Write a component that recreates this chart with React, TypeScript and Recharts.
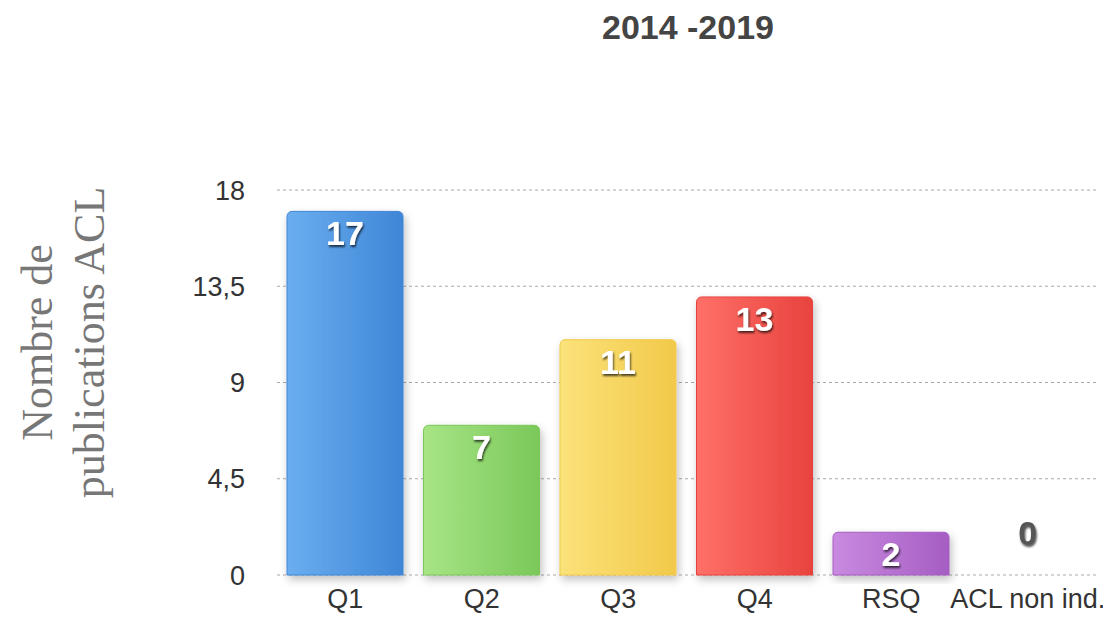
import React from 'react';
import { BarChart, Bar, XAxis, YAxis, CartesianGrid, Cell, LabelList, ReferenceDot } from 'recharts';

const categories = ['Q1', 'Q2', 'Q3', 'Q4', 'RSQ', 'ACL non ind.'];
const publications = [17, 7, 11, 13, 2, 0];
const yTicks = [0, 4.5, 9, 13.5, 18];
const barColors = [
  ['#6aaef0', '#3f86d6'],
  ['#a8e585', '#7ac85a'],
  ['#fbe27a', '#f2c94a'],
  ['#ff7068', '#e8433e'],
  ['#c98ae0', '#a55dc2'],
  ['#bbbbbb', '#999999'],
];

const data = categories.map((name, i) => ({ name, value: publications[i] }));

const fontFamily = '"Liberation Sans", Arial, Helvetica, sans-serif';

const formatTick = (v: number) => String(v).replace('.', ',');

const ValueLabel = (props: any) => {
  const { x, y, width, value } = props;
  if (!value) return null;
  return (
    <text x={x + width / 2} y={y + 34} textAnchor="middle" fontFamily={fontFamily} fontWeight="bold"
      fontSize={34} fill="#fff" filter="url(#txtShadow)">
      {value}
    </text>
  );
};

// zero bars have no height, so their label is drawn at the value on the axis
const ZeroLabel = (props: any) => (
  <text x={props.cx} y={props.cy - 30} textAnchor="middle" fontFamily={fontFamily} fontWeight="bold"
    fontSize={34} fill="#555" filter="url(#txtShadow)">
    0
  </text>
);

const YLabel = (props: any) => {
  const vb = props.viewBox || {};
  const cy = vb.y + vb.height / 2 - 40;
  return (
    <g fontFamily='"Liberation Serif", "DejaVu Serif", serif' fontSize={44} fill="#777">
      <text x={34} y={cy} textAnchor="middle" transform={`rotate(-90 34 ${cy})`} dominantBaseline="middle">
        Nombre de
      </text>
      <text x={86} y={cy} textAnchor="middle" transform={`rotate(-90 86 ${cy})`} dominantBaseline="middle">
        publications ACL
      </text>
    </g>
  );
};

export default function App() {
  return (
    <div style={{ position: 'relative', width: 1100, height: 612, fontFamily }}>
      <div style={{ position: 'absolute', left: 530, top: 0, width: 300, textAlign: 'center',
        fontSize: 34, fontWeight: 'bold', color: '#444' }}>
        2014 -2019
      </div>
      <BarChart width={1100} height={612} data={data}
        margin={{ top: 182, right: 12, left: 0, bottom: 15 }} barSize={116}>
        <defs>
          {barColors.map((c, i) => (
            <linearGradient key={i} id={`grad${i}`} x1="0" y1="0" x2="1" y2="0">
              <stop offset="0%" stopColor={c[0]} />
              <stop offset="100%" stopColor={c[1]} />
            </linearGradient>
          ))}
          <filter id="txtShadow" x="-50%" y="-50%" width="200%" height="200%">
            <feDropShadow dx="1" dy="2" stdDeviation="1.2" floodColor="#000" floodOpacity="0.7" />
          </filter>
          <filter id="barShadow" x="-20%" y="-10%" width="140%" height="130%">
            <feDropShadow dx="2" dy="4" stdDeviation="4" floodColor="#000" floodOpacity="0.25" />
          </filter>
        </defs>
        <CartesianGrid vertical={false} strokeDasharray="3 3" stroke="#aaa" />
        <XAxis dataKey="name" axisLine={false} tickLine={false} tickMargin={8} interval={0}
          tick={{ fontSize: 27, fill: '#333', fontFamily }} />
        <YAxis domain={[0, 18]} ticks={yTicks} width={269} axisLine={false} tickLine={false}
          tickSize={8} tickMargin={24} tickFormatter={formatTick}
          tick={{ fontSize: 27, fill: '#333', fontFamily }}
          label={<YLabel />} />
        <Bar dataKey="value" isAnimationActive={false} radius={[5, 5, 0, 0]} filter="url(#barShadow)">
          {data.map((d, i) => (
            <Cell key={d.name} fill={`url(#grad${i})`} stroke={barColors[i][1]} />
          ))}
          <LabelList dataKey="value" content={<ValueLabel />} />
        </Bar>
        {data.filter((d) => d.value === 0).map((d) => (
          <ReferenceDot key={d.name} x={d.name} y={d.value} r={0} shape={<ZeroLabel />} />
        ))}
      </BarChart>
    </div>
  );
}
